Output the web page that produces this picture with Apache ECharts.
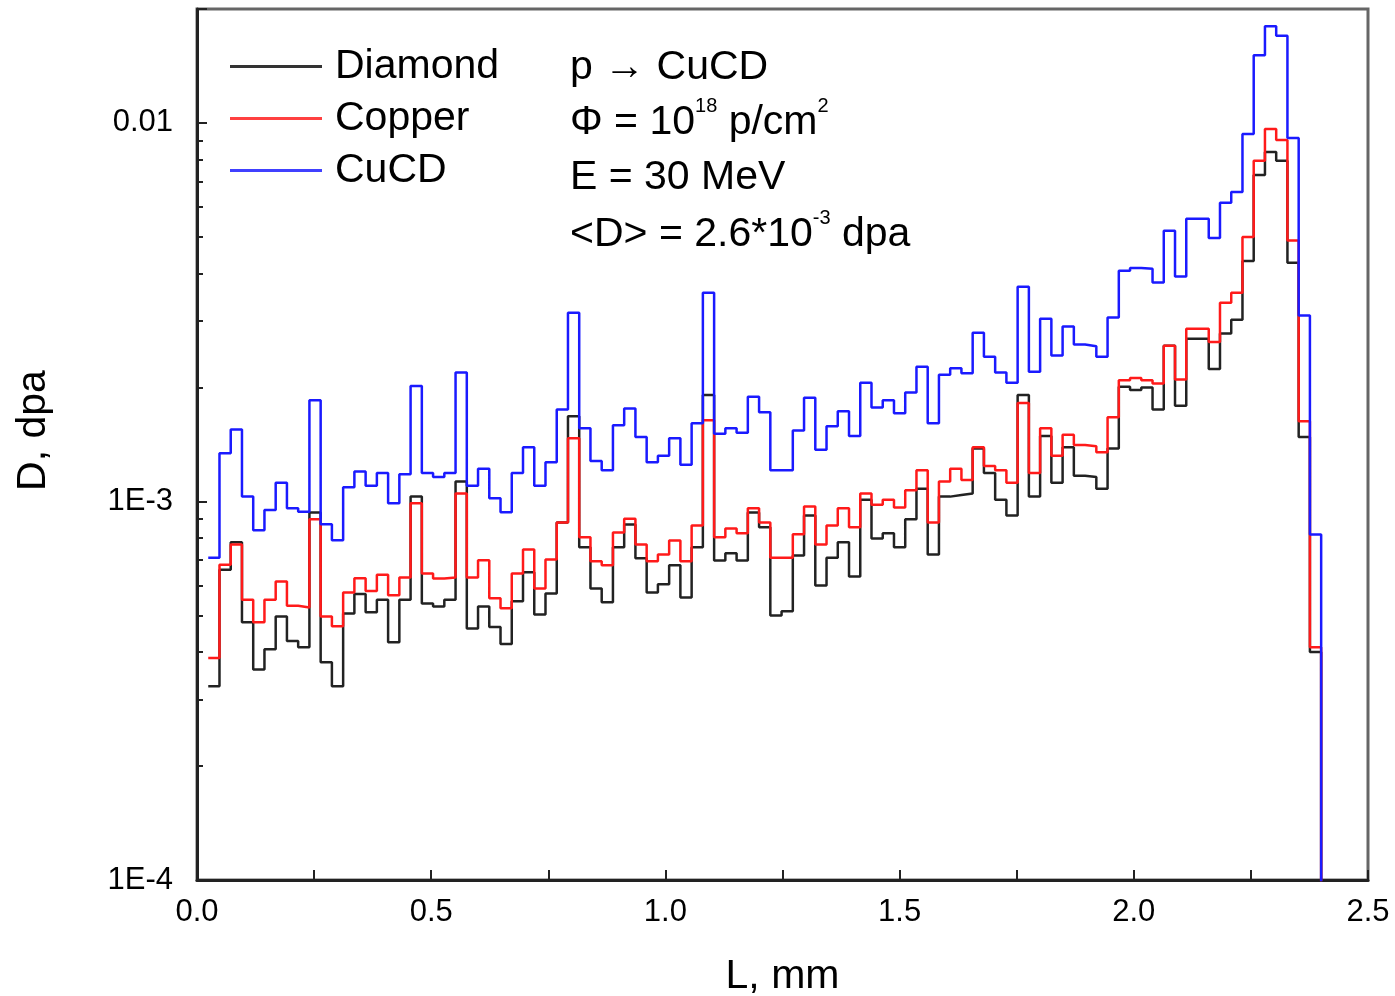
<!DOCTYPE html>
<html>
<head>
<meta charset="utf-8">
<script src="https://cdn.jsdelivr.net/npm/echarts@6/dist/echarts.min.js"></script>
<style>
html, body { margin: 0; padding: 0; background: #fff; }
#chart { width: 1395px; height: 996px; }
</style>
</head>
<body>
<div id="chart"></div>
<script>
// Histogram bins: 99 bins of 0.024 mm, first one starting at 0.024 mm
const BIN_WIDTH = 0.024
const FIRST_EDGE = 0.024
// after the last bin every curve falls off the bottom of the plot
const BELOW_RANGE = 1e-6

const diamond = [
  3.25e-4, 6.6e-4, 7.8e-4, 4.8e-4, 3.6e-4, 4.07e-4, 4.97e-4, 4.28e-4, 4.12e-4, 9.35e-4,
  3.76e-4, 3.25e-4, 5.06e-4, 5.7e-4, 5.1e-4, 5.5e-4, 4.25e-4, 5.5e-4, 1.03e-3, 5.38e-4,
  5.28e-4, 5.5e-4, 1.13e-3, 4.62e-4, 5.28e-4, 4.66e-4, 4.2e-4, 5.45e-4, 6.5e-4, 5.03e-4,
  5.71e-4, 8.8e-4, 1.68e-3, 7.57e-4, 5.89e-4, 5.42e-4, 7.57e-4, 8.69e-4, 7.08e-4, 5.75e-4,
  6.04e-4, 6.78e-4, 5.58e-4, 7.57e-4, 1.91e-3, 6.98e-4, 7.3e-4, 6.98e-4, 9.35e-4, 8.55e-4,
  5.0e-4, 5.13e-4, 7.2e-4, 9.18e-4, 6.0e-4, 7.1e-4, 7.8e-4, 6.34e-4, 1.01e-3, 7.98e-4,
  8.24e-4, 7.57e-4, 8.97e-4, 1.08e-3, 7.24e-4, 1.03e-3, 1.04e-3, 1.05e-3, 1.38e-3, 1.19e-3,
  1.01e-3, 9.18e-4, 1.91e-3, 1.03e-3, 1.49e-3, 1.12e-3, 1.39e-3, 1.17e-3, 1.16e-3, 1.08e-3,
  1.38e-3, 2.01e-3, 1.97e-3, 2.0e-3, 1.75e-3, 2.58e-3, 1.79e-3, 2.69e-3, 2.69e-3, 2.24e-3,
  2.78e-3, 3.02e-3, 4.32e-3, 7.29e-3, 8.38e-3, 7.94e-3, 4.27e-3, 1.48e-3, 4.0e-4
]

const copper = [
  3.86e-4, 6.8e-4, 7.7e-4, 5.5e-4, 4.8e-4, 5.5e-4, 6.15e-4, 5.3e-4, 5.25e-4, 8.97e-4,
  4.97e-4, 4.68e-4, 5.75e-4, 6.27e-4, 5.8e-4, 6.4e-4, 5.65e-4, 6.3e-4, 9.9e-4, 6.45e-4,
  6.26e-4, 6.3e-4, 1.05e-3, 6.3e-4, 6.99e-4, 5.55e-4, 5.22e-4, 6.45e-4, 7.47e-4, 5.89e-4,
  7.03e-4, 8.8e-4, 1.47e-3, 8.04e-4, 6.95e-4, 6.78e-4, 8.28e-4, 9.0e-4, 7.7e-4, 6.95e-4,
  7.24e-4, 7.89e-4, 6.95e-4, 8.64e-4, 1.64e-3, 8.04e-4, 8.49e-4, 8.24e-4, 9.6e-4, 8.8e-4,
  7.1e-4, 7.1e-4, 8.19e-4, 9.7e-4, 7.7e-4, 8.64e-4, 9.6e-4, 8.55e-4, 1.05e-3, 9.8e-4,
  1.01e-3, 9.64e-4, 1.07e-3, 1.21e-3, 8.8e-4, 1.13e-3, 1.22e-3, 1.14e-3, 1.39e-3, 1.24e-3,
  1.21e-3, 1.12e-3, 1.82e-3, 1.19e-3, 1.56e-3, 1.32e-3, 1.5e-3, 1.41e-3, 1.4e-3, 1.35e-3,
  1.67e-3, 2.09e-3, 2.12e-3, 2.09e-3, 2.05e-3, 2.58e-3, 2.1e-3, 2.86e-3, 2.86e-3, 2.64e-3,
  3.35e-3, 3.56e-3, 5.0e-3, 7.94e-3, 9.64e-3, 9.02e-3, 4.89e-3, 1.63e-3, 4.12e-4
]

const cucd = [
  7.1e-4, 1.34e-3, 1.55e-3, 1.03e-3, 8.4e-4, 9.5e-4, 1.12e-3, 9.6e-4, 9.4e-4, 1.85e-3,
  8.7e-4, 7.9e-4, 1.09e-3, 1.2e-3, 1.1e-3, 1.19e-3, 9.9e-4, 1.18e-3, 2.02e-3, 1.19e-3,
  1.16e-3, 1.19e-3, 2.19e-3, 1.1e-3, 1.22e-3, 1.02e-3, 9.36e-4, 1.19e-3, 1.39e-3, 1.1e-3,
  1.27e-3, 1.75e-3, 3.15e-3, 1.56e-3, 1.28e-3, 1.21e-3, 1.59e-3, 1.76e-3, 1.48e-3, 1.27e-3,
  1.32e-3, 1.47e-3, 1.25e-3, 1.61e-3, 3.56e-3, 1.51e-3, 1.56e-3, 1.52e-3, 1.89e-3, 1.72e-3,
  1.21e-3, 1.21e-3, 1.54e-3, 1.88e-3, 1.37e-3, 1.58e-3, 1.73e-3, 1.49e-3, 2.06e-3, 1.77e-3,
  1.85e-3, 1.71e-3, 1.94e-3, 2.27e-3, 1.61e-3, 2.16e-3, 2.25e-3, 2.18e-3, 2.79e-3, 2.41e-3,
  2.19e-3, 2.06e-3, 3.69e-3, 2.2e-3, 3.04e-3, 2.43e-3, 2.9e-3, 2.6e-3, 2.57e-3, 2.41e-3,
  3.06e-3, 4.07e-3, 4.14e-3, 4.12e-3, 3.79e-3, 5.19e-3, 3.93e-3, 5.58e-3, 5.58e-3, 4.97e-3,
  6.15e-3, 6.57e-3, 9.35e-3, 0.0151, 0.018, 0.017, 9.12e-3, 3.1e-3, 8.18e-4
]

const yTickValues = [1e-4, 1e-3, 1e-2]
const yTickLabels = ['1E-4', '1E-3', '0.01']
const yMinorTicks = [
  2e-4, 3e-4, 4e-4, 5e-4, 6e-4, 7e-4, 8e-4, 9e-4,
  2e-3, 3e-3, 4e-3, 5e-3, 6e-3, 7e-3, 8e-3, 9e-3
]
const Y_MIN = 1e-4
const Y_MAX = 0.02

const FONT = "'Liberation Sans', Arial, sans-serif"
const AXIS = '#222'
const TEXT_SIZE = 41

// left bin edges, plus one closing point so the last bin drops off the plot
function stepData(values) {
  const pts = values.map((v, i) => [+(FIRST_EDGE + i * BIN_WIDTH).toFixed(3), v])
  pts.push([+(FIRST_EDGE + values.length * BIN_WIDTH).toFixed(3), BELOW_RANGE])
  return pts
}

function yLabel(v) {
  const i = yTickValues.findIndex((t) => Math.abs(Math.log10(v) - Math.log10(t)) < 1e-6)
  return i < 0 ? '' : yTickLabels[i]
}

const chart = echarts.init(document.getElementById('chart'))

// superscripts: small text lifted by a bottom padding inside the rich line
const sup = { fontSize: 20, fontFamily: FONT, fill: '#000', padding: [0, 0, 34, 0] }
const big = { fontSize: TEXT_SIZE, fontFamily: FONT, fill: '#000' }

chart.setOption({
  animation: false,
  backgroundColor: '#fff',
  grid: {
    left: 197, right: 27, top: 9, bottom: 116,
    outerBoundsMode: 'none',
    show: true, borderColor: '#666', borderWidth: 3
  },
  legend: {
    orient: 'vertical',
    left: 230,
    top: 46,
    padding: 0,
    itemGap: 11,
    itemWidth: 92,
    itemHeight: 3,
    icon: 'rect',
    selectedMode: false,
    textStyle: { fontSize: TEXT_SIZE, fontFamily: FONT, color: '#000', lineHeight: 40, padding: [0, 0, 0, 8] },
    data: ['Diamond', 'Copper', 'CuCD']
  },
  graphic: [
    { type: 'text', left: 570, top: 47, style: { text: 'p \u2192 CuCD', font: TEXT_SIZE + 'px ' + FONT, fill: '#000' } },
    {
      type: 'text', left: 570, top: 96,
      style: { text: '{m|\u03A6 = 10}{s|18}{m| p/cm}{s|2}', rich: { m: big, s: sup } }
    },
    { type: 'text', left: 570, top: 157, style: { text: 'E = 30 MeV', font: TEXT_SIZE + 'px ' + FONT, fill: '#000' } },
    {
      type: 'text', left: 570, top: 208,
      style: { text: '{m|<D> = 2.6*10}{s|-3}{m| dpa}', rich: { m: big, s: sup } }
    }
  ],
  xAxis: {
    type: 'value',
    min: 0,
    max: 2.5,
    interval: 0.25,
    name: 'L, mm',
    nameLocation: 'middle',
    nameGap: 76,
    nameTextStyle: { fontSize: TEXT_SIZE, fontFamily: FONT, color: '#000' },
    axisLine: { lineStyle: { color: AXIS, width: 3 } },
    axisTick: { inside: true, length: 10, lineStyle: { color: AXIS, width: 2 } },
    axisLabel: {
      fontSize: 31, fontFamily: FONT, color: '#000', margin: 17,
      formatter: (v) => (Math.abs(v * 2 - Math.round(v * 2)) < 1e-6 ? v.toFixed(1) : '')
    },
    splitLine: { show: false }
  },
  yAxis: [
    {
      type: 'log',
      logBase: 10,
      min: Y_MIN,
      max: Y_MAX,
      name: 'D, dpa',
      nameLocation: 'middle',
      nameGap: 143,
      nameRotate: 90,
      nameTextStyle: { fontSize: TEXT_SIZE, fontFamily: FONT, color: '#000', padding: [0, 0, 0, 28] },
      axisLine: { show: true, lineStyle: { color: AXIS, width: 3 } },
      axisTick: { inside: true, length: 10, lineStyle: { color: AXIS, width: 2 } },
      axisLabel: { fontSize: 31, fontFamily: FONT, color: '#000', margin: 24, formatter: yLabel },
      splitLine: { show: false }
    },
    {
      // minor log ticks (2..9 per decade), on a log10-value axis sharing the same span
      type: 'value',
      position: 'left',
      min: Math.log10(Y_MIN),
      max: Math.log10(Y_MAX),
      axisLine: { show: false },
      axisTick: {
        show: true, inside: true, length: 6,
        customValues: yMinorTicks.map((v) => Math.log10(v)),
        lineStyle: { color: AXIS, width: 2 }
      },
      axisLabel: { show: false },
      splitLine: { show: false }
    }
  ],
  series: [
    {
      name: 'Diamond', type: 'line', step: 'end', symbol: 'none', yAxisIndex: 0,
      color: '#333', lineStyle: { color: '#222', width: 2.5 }, data: stepData(diamond), z: 2
    },
    {
      name: 'Copper', type: 'line', step: 'end', symbol: 'none', yAxisIndex: 0,
      color: '#ff4040', lineStyle: { color: '#ff1a1a', width: 2.5 }, data: stepData(copper), z: 3
    },
    {
      name: 'CuCD', type: 'line', step: 'end', symbol: 'none', yAxisIndex: 0,
      color: '#4040ff', lineStyle: { color: '#1a1aff', width: 2.5 }, data: stepData(cucd), z: 4
    }
  ]
})
</script>
</body>
</html>
